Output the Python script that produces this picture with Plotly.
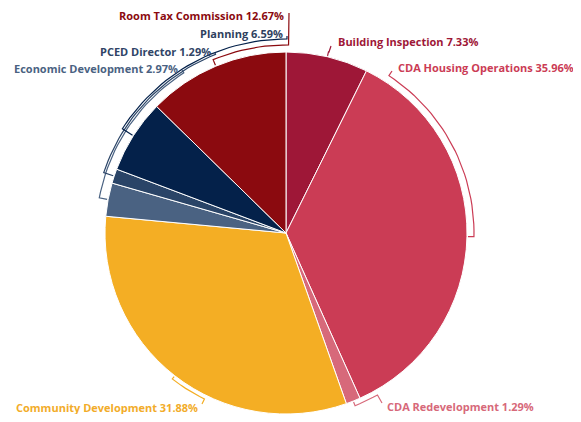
import math
import plotly.graph_objects as go

# ---- data ----
labels = ["Building Inspection", "CDA Housing Operations", "CDA Redevelopment",
          "Community Development", "Economic Development", "PCED Director",
          "Planning", "Room Tax Commission"]
values = [7.33, 35.96, 1.29, 31.88, 2.97, 1.29, 6.59, 12.67]

# ---- styles ----
colors = ["#9E1737", "#CB3C55", "#D7697A", "#F4AE24",
          "#4A6282", "#2A4467", "#04214A", "#8B0A0F"]
text_colors = ["#9E1737", "#CB3C55", "#D7697A", "#F2AC2A",
               "#4A6282", "#2F4466", "#2E3F5E", "#8B0A0F"]

# ---- layout (page pixels; page body has an 8px margin) ----
OFF = 8
W, H = 581 - 2 * OFF, 422 - 2 * OFF
CX, CY, R = 286 - OFF, 233 - OFF, 181
# connector start point beside each label, label side, arc padding
conn_x = [331, 392, 382, 202, 182, 215, 287, 289]
conn_y = [46, 71, 403, 404, 70, 53, 36, 13]
label_x = [336, 396, 385, 200, 180, 213, 285, 286]
label_y = [41, 67, 406, 407, 68, 51, 33, 15]
label_side = ["left", "left", "left", "right", "right", "right", "right", "right"]
arc_pad = [5, 7, 5, 4, 9, 11, 13, 7]


def pt(theta_deg, r):
    t = math.radians(theta_deg)
    return CX + r * math.sin(t), CY - r * math.cos(t)


def ang(x, y):
    return math.degrees(math.atan2(x - CX, CY - y)) % 360


fig = go.Figure()

total = sum(values)
cum = 0.0
for i, v in enumerate(values):
    mid = (cum + v / 2) / total * 360
    cum += v
    ra = R + arc_pad[i]
    cx0, cy0 = conn_x[i] - OFF, conn_y[i] - OFF
    th0 = ang(cx0, cy0)
    d = ((mid - th0 + 180) % 360) - 180
    xs, ys = [cx0], [cy0]
    n = max(2, int(abs(d) / 2) + 2)
    for k in range(n + 1):
        x, y = pt(th0 + d * k / n, ra)
        xs.append(x)
        ys.append(y)
    x, y = pt(mid, R + 1)
    xs.append(x)
    ys.append(y)
    fig.add_trace(go.Scatter(x=xs, y=ys, mode="lines",
                             line=dict(color=colors[i], width=1.2),
                             hoverinfo="skip", showlegend=False))
    fig.add_annotation(x=label_x[i] - OFF, y=label_y[i] - OFF, xref="x", yref="y",
                       text=f"{labels[i]} {v:.2f}%", showarrow=False,
                       xanchor=label_side[i], yanchor="middle",
                       font=dict(family="Open Sans", size=11,
                                 color=text_colors[i], weight="bold"))

dom_x = [max(0.0, (CX - R) / W), min(1.0, (CX + R) / W)]
dom_y = [max(0.0, 1 - (CY + R) / H), min(1.0, 1 - (CY - R) / H)]
fig.add_trace(go.Pie(
    labels=labels, values=values, sort=False, direction="clockwise",
    rotation=0, textinfo="none", showlegend=False,
    marker=dict(colors=colors, line=dict(color="white", width=1)),
    domain=dict(x=dom_x, y=dom_y),
))

fig.update_layout(
    width=W, height=H, margin=dict(l=0, r=0, t=0, b=0),
    paper_bgcolor="white", plot_bgcolor="white", showlegend=False,
    xaxis=dict(visible=False, range=[0, W], fixedrange=True),
    yaxis=dict(visible=False, range=[H, 0], fixedrange=True),
)

fig.write_html("out.html")
